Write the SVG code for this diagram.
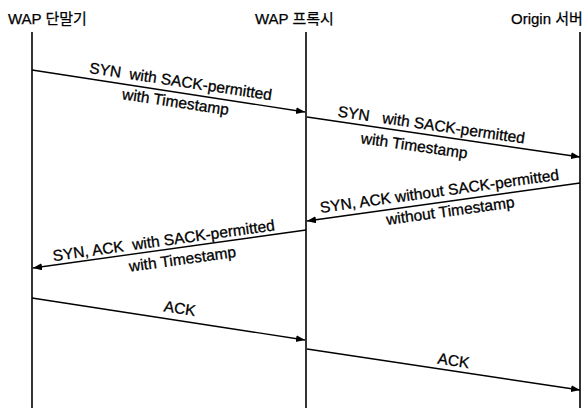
<svg xmlns="http://www.w3.org/2000/svg" width="588" height="408" viewBox="0 0 588 408">
<style>
.hdr{font-family:"Liberation Sans","Noto Sans CJK KR",sans-serif;font-size:15px;fill:#000;stroke:#000;stroke-width:0.25}
.lbl{font-family:"Liberation Sans","Noto Sans CJK KR",sans-serif;font-size:15.5px;fill:#000;stroke:#000;stroke-width:0.3;text-anchor:middle;white-space:pre}
.life{stroke:#000;stroke-width:1.6;fill:none}
.msg{stroke:#000;stroke-width:1.4;fill:none;marker-end:url(#ah)}
</style>
<defs>
<marker id="ah" markerUnits="userSpaceOnUse" markerWidth="10" markerHeight="8" refX="9" refY="3.5" orient="auto">
<path d="M0,0 L9,3.5 L0,7 z" fill="#000"/>
</marker>
</defs>
<g id="terminal">
<text class="hdr" x="8" y="24">WAP 단말기</text>
<line class="life" x1="32" y1="32" x2="32" y2="408"/>
</g>
<g id="proxy">
<text class="hdr" x="255" y="24">WAP 프록시</text>
<line class="life" x1="306" y1="32" x2="306" y2="408"/>
</g>
<g id="origin">
<text class="hdr" x="511" y="24">Origin 서버</text>
<line class="life" x1="580" y1="32" x2="580" y2="408"/>
</g>
<g id="connectors">
<line class="msg" x1="32" y1="70" x2="305" y2="112"/>
<line class="msg" x1="307" y1="117" x2="580" y2="157"/>
<line class="msg" x1="580" y1="183" x2="307" y2="221"/>
<line class="msg" x1="306" y1="230" x2="33" y2="268"/>
<line class="msg" x1="32" y1="298" x2="305" y2="340"/>
<line class="msg" x1="307" y1="349" x2="580" y2="390"/>
</g>
<g id="labels">
<g transform="translate(179,92.6) rotate(8.5)">
<text class="lbl" x="0" y="-6">SYN  with SACK-permitted</text>
<text class="lbl" x="-2" y="15">with Timestamp</text>
</g>
<g transform="translate(430,135) rotate(8.2)">
<text class="lbl" x="0" y="-5">SYN   with SACK-permitted</text>
<text class="lbl" x="-14" y="18">with Timestamp</text>
</g>
<g transform="translate(441,202.3) rotate(-7.9)">
<text class="lbl" x="0" y="-6">SYN, ACK without SACK-permitted</text>
<text class="lbl" x="8" y="15">without Timestamp</text>
</g>
<g transform="translate(165,249.7) rotate(-7.9)">
<text class="lbl" x="0" y="-4">SYN, ACK  with SACK-permitted</text>
<text class="lbl" x="16" y="17">with Timestamp</text>
</g>
<g transform="translate(178,320.5) rotate(8.7)">
<text class="lbl" x="0" y="-7">ACK</text>
</g>
<g transform="translate(452,370.8) rotate(8.5)">
<text class="lbl" x="0" y="-5">ACK</text>
</g>
</g>
</svg>
